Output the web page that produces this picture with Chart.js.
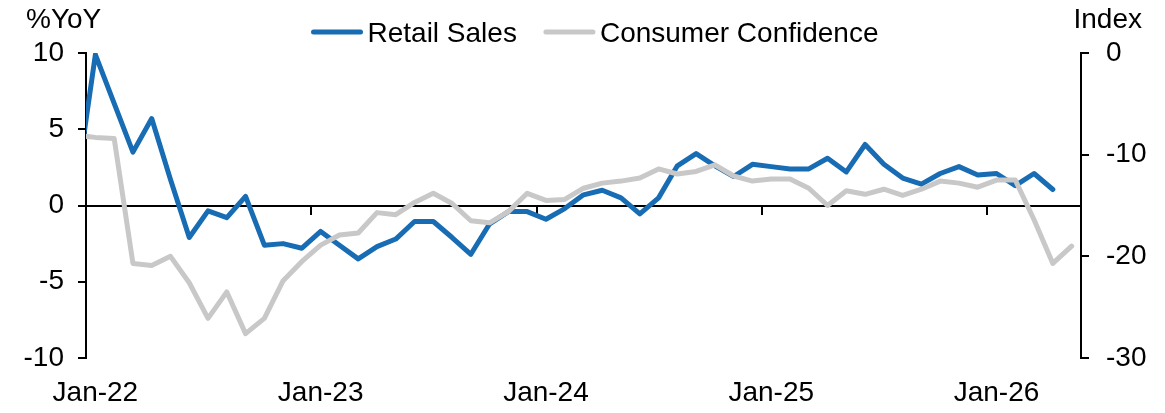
<!DOCTYPE html>
<html>
<head>
<meta charset="utf-8">
<script src="https://cdn.jsdelivr.net/npm/chart.js@4.4.0/dist/chart.umd.min.js"></script>
<style>
  html, body { margin: 0; padding: 0; background: #fff; }
</style>
</head>
<body>
<canvas id="chart" width="1165" height="413"></canvas>
<script>
// months (Dec-21 sits just off the left edge so the first segment runs into the axis)
const months = [
  'Dec-21',
  'Jan-22', 'Feb-22', 'Mar-22', 'Apr-22', 'May-22', 'Jun-22', 'Jul-22', 'Aug-22', 'Sep-22', 'Oct-22', 'Nov-22', 'Dec-22',
  'Jan-23', 'Feb-23', 'Mar-23', 'Apr-23', 'May-23', 'Jun-23', 'Jul-23', 'Aug-23', 'Sep-23', 'Oct-23', 'Nov-23', 'Dec-23',
  'Jan-24', 'Feb-24', 'Mar-24', 'Apr-24', 'May-24', 'Jun-24', 'Jul-24', 'Aug-24', 'Sep-24', 'Oct-24', 'Nov-24', 'Dec-24',
  'Jan-25', 'Feb-25', 'Mar-25', 'Apr-25', 'May-25', 'Jun-25', 'Jul-25', 'Aug-25', 'Sep-25', 'Oct-25', 'Nov-25', 'Dec-25',
  'Jan-26', 'Feb-26', 'Mar-26', 'Apr-26', 'May-26'
];

// %YoY, left axis
const retailSales = [
  1.3,
  9.9, 6.7, 3.5, 5.7, 1.7, -2.1, -0.35, -0.8, 0.6, -2.6, -2.5, -2.8,
  -1.7, -2.6, -3.5, -2.7, -2.2, -1.05, -1.05, -2.1, -3.2, -1.2, -0.4, -0.4,
  -0.9, -0.2, 0.7, 1.0, 0.5, -0.55, 0.5, 2.6, 3.4, 2.6, 1.9, 2.7,
  2.55, 2.4, 2.4, 3.1, 2.2, 4.0, 2.7, 1.8, 1.4, 2.1, 2.55, 2.0,
  2.1, 1.3, 2.1, 1.05, null
];

// index, right axis
const consumerConfidence = [
  -8.1,
  -8.3, -8.4, -20.7, -20.9, -20.0, -22.6, -26.1, -23.5, -27.6, -26.1, -22.4, -20.5,
  -18.9, -17.9, -17.7, -15.7, -15.9, -14.7, -13.8, -14.8, -16.5, -16.7, -15.6, -13.8,
  -14.5, -14.4, -13.3, -12.8, -12.6, -12.3, -11.4, -11.9, -11.65, -11.0, -12.1, -12.6,
  -12.4, -12.4, -13.3, -15.0, -13.55, -13.9, -13.4, -14.0, -13.4, -12.6, -12.8, -13.2,
  -12.5, -12.5, -16.4, -20.7, -19.0
];

const leftTicks = { min: -10, max: 10, step: 5 };
const rightTicks = { min: -30, max: 0, step: 10 };

const BLUE = '#176CB3';
const GREY = '#C8C8C8';
const FONT = "'Liberation Sans', Arial, sans-serif";

Chart.defaults.font.family = FONT;
Chart.defaults.font.size = 28;
Chart.defaults.color = '#000';

const isJan = lbl => typeof lbl === 'string' && lbl.indexOf('Jan') === 0;

// legend + unit titles drawn above the plot
const headerPlugin = {
  id: 'header',
  afterDraw(chart) {
    const c = chart.ctx;
    c.save();
    c.font = '28px ' + FONT;
    c.fillStyle = '#000';
    c.textBaseline = 'alphabetic';

    c.textAlign = 'left';
    c.fillText('%YoY', 26, 28);
    c.textAlign = 'right';
    c.fillText('Index', 1142, 28);

    const items = chart.data.datasets.map(ds => ({
      text: ds.label, color: ds.borderColor, w: c.measureText(ds.label).width
    }));
    const lineLen = 47, gapText = 7, gapItem = 29;
    const total = items.reduce((s, it) => s + lineLen + gapText + it.w, 0) + gapItem * (items.length - 1);
    let x = 596 - total / 2;
    c.textAlign = 'left';
    items.forEach(it => {
      c.strokeStyle = it.color;
      c.lineWidth = 5;
      c.lineCap = 'round';
      c.beginPath();
      c.moveTo(x, 32);
      c.lineTo(x + lineLen, 32);
      c.stroke();
      c.fillText(it.text, x + lineLen + gapText, 42);
      x += lineLen + gapText + it.w + gapItem;
    });
    c.restore();
  }
};

new Chart(document.getElementById('chart'), {
  type: 'line',
  data: {
    labels: months,
    datasets: [
      {
        label: 'Retail Sales',
        data: retailSales,
        borderColor: BLUE,
        backgroundColor: BLUE,
        borderWidth: 5,
        pointRadius: 0,
        borderJoinStyle: 'round',
        borderCapStyle: 'round',
        tension: 0,
        xAxisID: 'x',
        yAxisID: 'y',
        order: 1
      },
      {
        label: 'Consumer Confidence',
        data: consumerConfidence,
        borderColor: GREY,
        backgroundColor: GREY,
        borderWidth: 5,
        pointRadius: 0,
        borderJoinStyle: 'round',
        borderCapStyle: 'round',
        tension: 0,
        xAxisID: 'x',
        yAxisID: 'y1',
        order: 0
      }
    ]
  },
  options: {
    responsive: false,
    animation: false,
    layout: { padding: { top: 53, left: 0, right: 0, bottom: 0 } },
    plugins: {
      legend: { display: false },
      tooltip: { enabled: false }
    },
    scales: {
      x: {
        type: 'category',
        position: 'bottom',
        min: 'Jan-22',
        offset: true,
        grid: { display: false, drawTicks: false },
        border: { display: false },
        ticks: {
          autoSkip: false,
          maxRotation: 0,
          padding: 18,
          callback: function (value) {
            const lbl = this.getLabelForValue(value);
            return isJan(lbl) ? lbl : '';
          }
        },
        afterFit: s => { s.height = 55; }
      },
      // zero line with year ticks on it
      x0: {
        type: 'category',
        position: { y: 0 },
        min: 'Jan-22',
        offset: true,
        grid: {
          display: true,
          offset: true,
          drawOnChartArea: false,
          drawTicks: true,
          tickLength: 8,
          lineWidth: 2,
          color: ctx => (ctx.tick && isJan(ctx.tick.label)) ? '#000' : 'rgba(0,0,0,0)'
        },
        border: { display: true, color: '#000', width: 2 },
        ticks: { display: false, autoSkip: false }
      },
      y: {
        position: 'left',
        min: leftTicks.min,
        max: leftTicks.max,
        ticks: { stepSize: leftTicks.step, padding: 14 },
        grid: { display: true, drawOnChartArea: false, drawTicks: true, tickLength: 8, color: '#000', lineWidth: 2 },
        border: { display: true, color: '#000', width: 2 },
        afterFit: s => { s.width = 86; }
      },
      y1: {
        position: 'right',
        min: rightTicks.min,
        max: rightTicks.max,
        ticks: { stepSize: rightTicks.step, padding: 17 },
        grid: { display: true, drawOnChartArea: false, drawTicks: true, tickLength: 8, color: '#000', lineWidth: 2 },
        border: { display: true, color: '#000', width: 2 },
        afterFit: s => { s.width = 84; }
      }
    }
  },
  plugins: [headerPlugin]
});
</script>
</body>
</html>
